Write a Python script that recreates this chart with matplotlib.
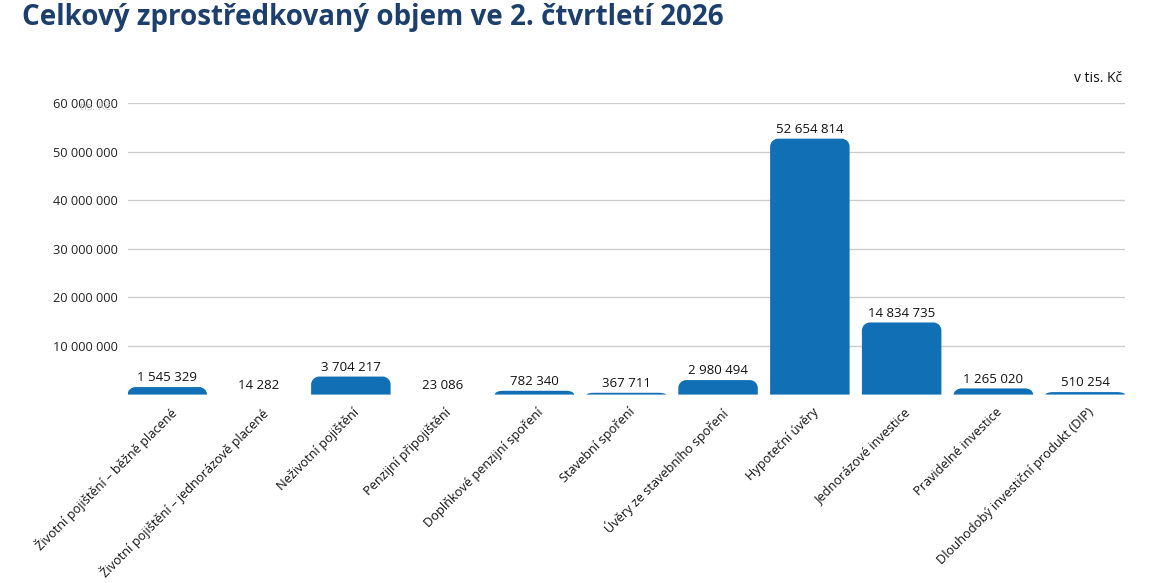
import matplotlib
matplotlib.use("Agg")
import matplotlib.pyplot as plt
from matplotlib.path import Path
from matplotlib.patches import PathPatch

plt.rcParams["font.family"] = ["Open Sans", "DejaVu Sans"]

categories = [
    "Životní pojištění – běžně placené",
    "Životní pojištění – jednorázově placené",
    "Neživotní pojištění",
    "Penzijní připojištění",
    "Doplňkové penzijní spoření",
    "Stavební spoření",
    "Úvěry ze stavebního spoření",
    "Hypoteční úvěry",
    "Jednorázové investice",
    "Pravidelné investice",
    "Dlouhodobý investiční produkt (DIP)",
]
values = [1545329, 14282, 3704217, 23086, 782340, 367711, 2980494,
          52654814, 14834735, 1265020, 510254]
y_ticks = [10000000, 20000000, 30000000, 40000000, 50000000, 60000000]

title = "Celkový zprostředkovaný objem ve 2. čtvrtletí 2026"
unit = "v tis. Kč"

bar_color = "#1170b5"
title_color = "#1d3f6e"


def fmt(v):
    return f"{v:,}".replace(",", " ")


def rounded_top(x0, w, h, rx, ry):
    x1 = x0 + w
    ry = min(ry, h)
    k = 0.5523
    verts = [
        (x0, 0), (x0, h - ry),
        (x0, h - ry + k * ry), (x0 + rx - k * rx, h), (x0 + rx, h),
        (x1 - rx, h),
        (x1 - rx + k * rx, h), (x1, h - ry + k * ry), (x1, h - ry),
        (x1, 0), (x0, 0),
    ]
    codes = [Path.MOVETO, Path.LINETO,
             Path.CURVE4, Path.CURVE4, Path.CURVE4,
             Path.LINETO,
             Path.CURVE4, Path.CURVE4, Path.CURVE4,
             Path.LINETO, Path.CLOSEPOLY]
    return Path(verts, codes)


fig = plt.figure(figsize=(11.51, 5.83), dpi=100)
ax = fig.add_axes([0.1108, 0.3232, 0.8666, 0.5002])

x = list(range(len(categories)))
bars = ax.bar(x, values, width=0.866, color=bar_color)
ax.set_xlim(-0.433, len(categories) - 1 + 0.433)
ax.set_ylim(0, 60000000)

# round the top corners (about 8 px)
rx = 8 / 91.75
ry = 8 / 48.6 * 10000000
for rect in bars:
    rect.set_visible(False)
    if rect.get_height() < 100000:
        continue  # too thin to show up
    p = rounded_top(rect.get_x(), rect.get_width(), rect.get_height(), rx, ry)
    ax.add_patch(PathPatch(p, facecolor=bar_color, edgecolor="none", zorder=3))

for xi, v in zip(x, values):
    ax.annotate(fmt(v), (xi, v), xytext=(0, 2), textcoords="offset points",
                ha="center", va="bottom", fontsize=9.5, color="#111111", zorder=4)

ax.set_yticks(y_ticks)
ax.set_yticklabels([fmt(t) for t in y_ticks], fontsize=9.2, color="#222222")
ax.set_xticks(x)
ax.set_xticklabels(categories, rotation=45, ha="right", va="top",
                   rotation_mode="anchor", fontsize=9.2, color="#111111")
ax.tick_params(axis="both", length=0)
ax.tick_params(axis="y", pad=7)
ax.tick_params(axis="x", pad=8)
for lbl in ax.get_xticklabels():
    lbl.set_transform(lbl.get_transform() +
                      matplotlib.transforms.ScaledTranslation(2 / 100, 0, fig.dpi_scale_trans))

ax.grid(axis="y", color="#cccccc", linewidth=1)
ax.set_axisbelow(True)
for s in ax.spines.values():
    s.set_visible(False)

fig.text(22 / 1151, 1 - 18 / 583, title, fontsize=20, fontweight="bold",
         color=title_color, ha="left", va="center")
fig.text(1122 / 1151, 1 - 79 / 583, unit, fontsize=10, color="#111111",
         ha="right", va="center")
fig.text(80 / 1151, 1 - 108 / 583, "tis. Kč", fontsize=8, color="#c8c8c8",
         ha="left", va="center")

fig.savefig("out.png", dpi=100)
